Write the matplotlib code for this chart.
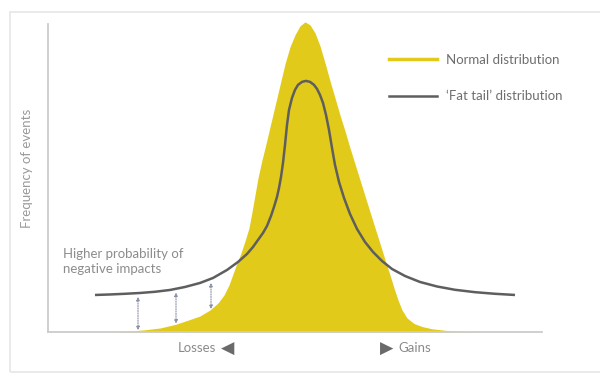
import matplotlib
matplotlib.use("Agg")
import matplotlib.pyplot as plt
from matplotlib.patches import Rectangle
from matplotlib.lines import Line2D

plt.rcParams['font.family'] = ['Lato', 'DejaVu Sans']

# ---- data ----
# x: outcome (losses < 0 < gains), y: frequency of events (peak = 100)
normal_x = [-20.5, -19.0, -17.5, -16.0, -14.5, -13.0, -11.5, -10.5, -9.5, -8.7,
            -8.1, -7.6, -7.2, -6.8, -6.4, -6.0, -5.6, -5.3, -5.0, -4.7,
            -4.3, -3.9, -3.5, -3.0, -2.5, -2.0, -1.5, -1.0, -0.5, 0.0,
            0.5, 1.0, 1.5, 2.0, 2.5, 3.0, 3.5, 4.0, 4.5, 5.0,
            5.5, 6.0, 6.5, 7.1, 7.7, 8.1, 8.5, 8.9, 9.3, 9.7,
            10.2, 10.9, 11.7, 12.7, 14.0, 15.5, 17.5, 20.0]
normal_y = [0.0, 0.06, 0.32, 0.71, 1.29, 2.42, 4.03, 5.16, 7.10, 9.35,
            11.94, 15.16, 18.71, 22.26, 25.48, 29.35, 33.55, 38.71, 44.19, 49.68,
            55.48, 60.65, 66.13, 72.90, 79.68, 86.45, 91.94, 95.81, 98.71, 100.0,
            99.03, 96.45, 92.26, 86.77, 80.97, 75.48, 69.94, 64.84, 59.35, 54.19,
            49.03, 43.87, 38.71, 32.58, 26.45, 22.26, 18.39, 14.19, 10.32, 7.10,
            4.52, 2.74, 1.77, 1.03, 0.55, 0.26, 0.06, 0.0]

fat_x = [-21.0, -19.5, -18.0, -16.5, -15.0, -13.5, -12.0, -10.5, -9.2, -7.8,
         -6.7, -5.8, -5.2, -4.7, -4.2, -3.8, -3.4, -3.1, -2.8, -2.6,
         -2.4, -2.2, -2.0, -1.8, -1.6, -1.3, -1.0, -0.7, -0.3, 0.1,
         0.5, 0.9, 1.2, 1.5, 1.8, 2.1, 2.4, 2.7, 3.0, 3.4,
         3.9, 4.5, 5.2, 6.0, 6.8, 7.7, 8.7, 10.0, 11.5, 13.2,
         15.0, 17.0, 19.0, 21.0]
fat_y = [11.94, 12.10, 12.32, 12.58, 12.97, 13.55, 14.52, 15.81, 17.42, 20.0,
         22.58, 25.16, 27.42, 29.68, 31.94, 34.19, 37.42, 40.32, 43.55, 46.45,
         50.0, 54.52, 60.32, 66.77, 71.61, 75.48, 78.06, 79.68, 80.65, 80.97,
         80.65, 79.68, 78.39, 76.45, 73.87, 70.0, 65.16, 59.35, 53.87, 48.39,
         43.23, 38.06, 33.23, 29.03, 25.81, 22.90, 20.32, 18.06, 16.13, 14.68,
         13.61, 12.84, 12.32, 11.94]

arrow_x = [-16.7, -12.9, -9.4]
arrow_top = [11.3, 12.7, 15.8]
arrow_bottom = [0.6, 2.7, 7.4]

legend_labels = ['Normal distribution', '\u2018Fat tail\u2019 distribution']

YELLOW = '#E2CA1B'
GRAY = '#5E5E5E'

fig = plt.figure(figsize=(6, 3.73), dpi=100)
W, H = 600, 373

# outer light frame
fig.add_artist(Rectangle((10 / W, 1 - 372 / H), 600 / W, 360 / H,
                         transform=fig.transFigure, fill=False,
                         ec='#E6E6E6', lw=1.2))

ax = fig.add_axes([48 / W, (H - 332) / H, (542 - 48) / W, (332 - 20) / H])
ax.set_xlim(-25.7, 23.7)
ax.set_ylim(0, 100.6)

ax.fill_between(normal_x, normal_y, 0, color=YELLOW, lw=0, zorder=2)
ax.plot(fat_x, fat_y, color=GRAY, lw=1.8, solid_capstyle='butt',
        solid_joinstyle='round', zorder=3)

for x, t, b in zip(arrow_x, arrow_top, arrow_bottom):
    ax.annotate('', xy=(x, b), xytext=(x, t),
                arrowprops=dict(arrowstyle='<|-|>', linestyle=(0, (1, 1.2)),
                                color='#8A90A8', lw=0.8, mutation_scale=5,
                                shrinkA=0, shrinkB=0), zorder=4)

for s in ['top', 'right']:
    ax.spines[s].set_visible(False)
for s in ['left', 'bottom']:
    ax.spines[s].set_color('#CCCCCC')
    ax.spines[s].set_linewidth(1.3)
ax.spines['left'].set_bounds(0, 99.35)
ax.set_xticks([])
ax.set_yticks([])
ax.patch.set_alpha(0)

fig.text(27 / W, 1 - 168 / H, 'Frequency of events', color='#9A9A9A',
         fontsize=9.5, rotation=90, ha='center', va='center')

ax.text(-24.2, 22.7, 'Higher probability of\nnegative impacts', color='#8C8C8C',
        fontsize=9.5, ha='left', va='center', linespacing=1.3)

# legend
handles = [Line2D([], [], color=YELLOW, lw=2.5),
           Line2D([], [], color=GRAY, lw=1.8)]
leg = ax.legend(handles, legend_labels, loc='upper left',
                bbox_to_anchor=((389 - 48) / 494, (332 - 54) / 312),
                frameon=False, fontsize=9.5, handlelength=3.6,
                handletextpad=0.75, labelspacing=1.85, borderaxespad=0,
                borderpad=0)
for t in leg.get_texts():
    t.set_color('#6E6E6E')

# axis direction labels
fig.text(216 / W, 1 - 348 / H, 'Losses', color='#8A8A8A', fontsize=9.5,
         ha='right', va='center')
fig.text(221 / W, 1 - 348.5 / H, '\u25C0', color='#6A6A6A', fontsize=12.5,
         ha='left', va='center', family='DejaVu Sans')
fig.text(393 / W, 1 - 348.5 / H, '\u25B6', color='#6A6A6A', fontsize=12.5,
         ha='right', va='center', family='DejaVu Sans')
fig.text(398 / W, 1 - 348 / H, 'Gains', color='#8A8A8A', fontsize=9.5,
         ha='left', va='center')

fig.savefig('out.png', dpi=100)
